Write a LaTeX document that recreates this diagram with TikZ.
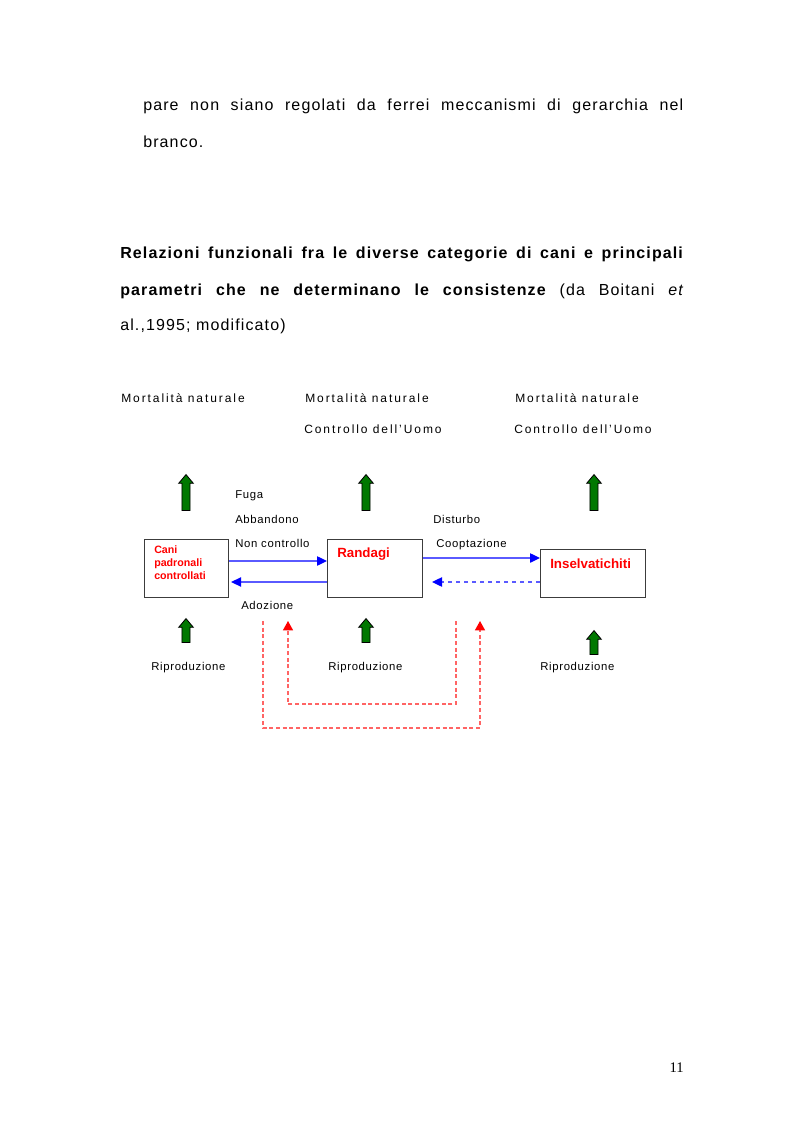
\documentclass[tikz,border=0pt]{standalone}
\usepackage{fontspec}
\setmainfont{Liberation Sans}
\newfontfamily\pagefont{Liberation Serif}
\usepackage{tikz}
\usetikzlibrary{arrows.meta,shapes.arrows}
\definecolor{boxgrey}{RGB}{60,60,60}
\definecolor{darkgreen}{RGB}{0,120,0}
\definecolor{lineblue}{RGB}{90,90,255}
\definecolor{linered}{RGB}{255,100,100}
\tikzset{
  body/.style={font=\fontsize{12pt}{14pt}\selectfont\addfontfeature{LetterSpace=7}, inner sep=0pt},
  lab/.style={font=\fontsize{8.5pt}{10pt}\selectfont\addfontfeature{LetterSpace=6}, inner sep=0pt},
  toplab/.style={font=\fontsize{9pt}{11pt}\selectfont\addfontfeature{LetterSpace=16}, inner sep=0pt},
  catbox/.style={draw=boxgrey, line width=0.8pt, inner sep=0pt, anchor=north west},
  cattext/.style={text=red, font=\bfseries, inner sep=0pt, align=left},
  greenup/.style={single arrow, shape border rotate=90, draw=black, fill=darkgreen, line width=0.6pt,
    inner sep=2.7pt, minimum width=11pt, single arrow head extend=2.4pt, single arrow tip angle=80},
  bluearr/.style={draw=lineblue, line width=1pt, -{Triangle[length=7.5pt,width=7pt,color=blue,fill=blue]}},
  redarr/.style={draw=linered, line width=0.9pt, dash pattern=on 3pt off 2pt,
    -{Triangle[length=7pt,width=7.5pt,color=red,fill=red]}}
}
\begin{document}
\begin{tikzpicture}[x=0.75pt,y=-0.75pt]
		%%Location
		\useasboundingbox (0,0) rectangle (793,1123);
		%%Text
		\draw (143,111) node[body, anchor=base west] (par1) {\makebox[405pt][s]{pare non siano regolati da ferrei meccanismi di gerarchia nel}};
		\draw (143,148) node[body, anchor=base west] (par2) {branco.};
		\draw (120,258) node[body, anchor=base west] (tit1) {\makebox[422pt][s]{\bfseries Relazioni funzionali fra le diverse categorie di cani e principali}};
		\draw (120,295) node[body, anchor=base west] (tit2) {\makebox[422pt][s]{\bfseries parametri che ne determinano le consistenze\mdseries\ (da Boitani \itshape et}};
		\draw (120,330) node[body, anchor=base west] (tit3) {al.,1995; modificato)};
		%%Top labels
		\draw (121,402) node[toplab, anchor=base west] (mort1) {Mortalità naturale};
		\draw (305,402) node[toplab, anchor=base west] (mort2) {Mortalità naturale};
		\draw (515,402) node[toplab, anchor=base west] (mort3) {Mortalità naturale};
		\draw (304,433) node[toplab, anchor=base west] (uomo2) {Controllo dell'Uomo};
		\draw (514,433) node[toplab, anchor=base west] (uomo3) {Controllo dell'Uomo};
		%%Green arrows
		\draw (186,495) node[greenup, minimum height=27pt] (up1) {};
		\draw (366,495) node[greenup, minimum height=27pt] (up2) {};
		\draw (594,495) node[greenup, minimum height=27pt] (up3) {};
		\draw (186,633) node[greenup, minimum height=18pt] (dn1) {};
		\draw (366,633) node[greenup, minimum height=18pt] (dn2) {};
		\draw (594,645) node[greenup, minimum height=18pt] (dn3) {};
		%%Boxes
		\draw (144,539) node[catbox, minimum width=63pt, minimum height=43.5pt] (cani) {};
		\draw (327,539) node[catbox, minimum width=71.25pt, minimum height=43.5pt] (randagi) {};
		\draw (540,549) node[catbox, minimum width=78.75pt, minimum height=36pt] (insel) {};
		\draw (154,545) node[cattext, anchor=north west, font=\bfseries\fontsize{8pt}{10pt}\selectfont] (canitxt) {Cani\\padronali\\controllati};
		\draw (337,557) node[cattext, anchor=base west, font=\bfseries\fontsize{10pt}{12pt}\selectfont] (randtxt) {Randagi};
		\draw (550,568) node[cattext, anchor=base west, font=\bfseries\fontsize{10pt}{12pt}\selectfont] (inseltxt) {Inselvatichiti};
		%%Flows
		\draw[bluearr] (cani.east |- 0,561) -- (randagi.west |- 0,561);
		\draw[bluearr] (randagi.west |- 0,582) -- ([xshift=1.5pt]cani.east |- 0,582);
		\draw[bluearr] (randagi.east |- 0,558) -- (insel.west |- 0,558);
		\draw[bluearr, dashed] (insel.west |- 0,582) -- (432,582);
		%%Flow labels
		\draw (235,498) node[lab, anchor=base west] (fuga) {Fuga};
		\draw (235,523) node[lab, anchor=base west] (abb) {Abbandono};
		\draw (235,547) node[lab, anchor=base west] (nonc) {Non controllo};
		\draw (241,609) node[lab, anchor=base west] (adoz) {Adozione};
		\draw (433,523) node[lab, anchor=base west] (dist) {Disturbo};
		\draw (436,547) node[lab, anchor=base west] (coop) {Cooptazione};
		%%Reproduction
		\draw (151,670) node[lab, anchor=base west] (rip1) {Riproduzione};
		\draw (328,670) node[lab, anchor=base west] (rip2) {Riproduzione};
		\draw (540,670) node[lab, anchor=base west] (rip3) {Riproduzione};
		%%Red loops
		\coordinate (outS) at (263,621);
		\coordinate (outE) at (480,621);
		\coordinate (inS) at (456,621);
		\coordinate (inE) at (288,621);
		\draw[redarr] (outS) -- ++(0,107) -| (outE);
		\draw[redarr] (inS) -- ++(0,83) -| (inE);
		%%Page number
		\draw (684,1072) node[anchor=base east, inner sep=0pt, font=\pagefont\fontsize{11pt}{13pt}\selectfont] (pagenum) {11};
\end{tikzpicture}
\end{document}
